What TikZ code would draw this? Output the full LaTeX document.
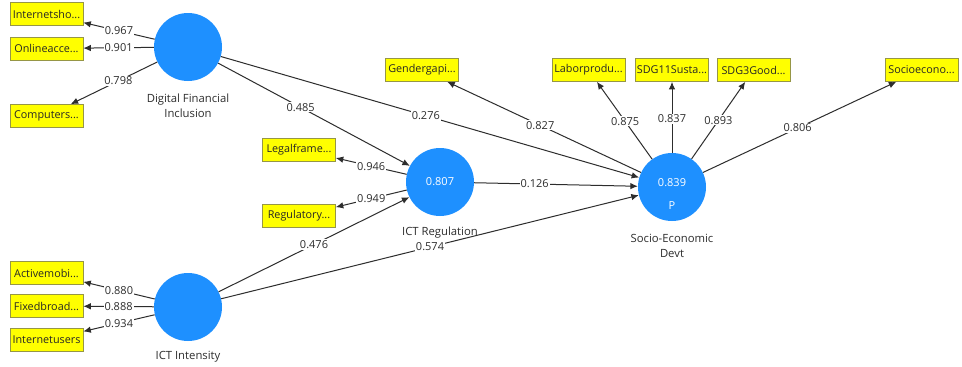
\documentclass[tikz,border=0pt]{standalone}
\usepackage{fontspec}
\setmainfont{Open Sans}
\usetikzlibrary{arrows.meta}
\definecolor{lvblue}{RGB}{30,144,255}
\definecolor{boxyellow}{RGB}{255,255,0}
\definecolor{boxedge}{RGB}{150,150,70}
\definecolor{linegray}{RGB}{45,45,45}
\definecolor{labgray}{RGB}{45,45,45}
\begin{document}
\begin{tikzpicture}[x=1pt,y=-1pt,
 lv/.style={circle,fill=lvblue,minimum size=68pt,inner sep=0pt,text=white,font=\fontsize{11}{12}\selectfont},
 ind/.style={draw=boxedge,fill=boxyellow,line width=0.6pt,minimum width=73pt,minimum height=23pt,inner sep=0pt,font=\fontsize{10.8}{12}\selectfont,text=black!85},
 lvname/.style={align=center,font=\fontsize{11.3}{14.5}\selectfont,text=labgray},
 lvtext/.style={text=white,font=\fontsize{11}{12}\selectfont},
 pathline/.style={draw=linegray,line width=1pt,-{Latex[length=7.5pt,width=6.5pt]}},
 wt/.style={fill=white,inner sep=1pt,font=\fontsize{11}{12}\selectfont,text=labgray},
]
\useasboundingbox[fill=white] (0,0) rectangle (962,367);

% latent variables
\node[lv] (dfi) at (188,47) {};
\node[lvname] (dfilab) at (188,106) {Digital Financial\\Inclusion};
\node[lv] (ict) at (188,307) {};
\node[lvname] (ictlab) at (188,357) {ICT Intensity};
\node[lv] (reg) at (440,182) {0.807};
\node[lvname] (reglab) at (440,233) {ICT Regulation};
\node[lv] (sed) at (672,187) {};
\node[lvtext] (sedval) at (672,183) {0.839};
\node[lvtext] (sedp) at (672,206) {P};
\node[lvname] (sedlab) at (672,246) {Socio-Economic\\Devt};

% indicators
\node[ind] (i1) at (46.5,14) {Internetsho...};
\node[ind] (i2) at (46.5,48.5) {Onlineacce...};
\node[ind] (i3) at (46.5,116) {Computers...};
\node[ind] (i4) at (46.5,273) {Activemobi...};
\node[ind] (i5) at (46.5,306) {Fixedbroad...};
\node[ind] (i6) at (46.5,340) {Internetusers};
\node[ind] (i7) at (299,149.5) {Legalframe...};
\node[ind] (i8) at (299,216) {Regulatory...};
\node[ind] (i9) at (422,70) {Gendergapi...};
\node[ind] (i10) at (588.5,70) {Laborprodu...};
\node[ind] (i11) at (672,70) {SDG11Susta...};
\node[ind] (i12) at (753.5,70) {SDG3Good...};
\node[ind] (i13) at (921.5,70) {Socioecono...};

% outer loadings
\draw[pathline] (dfi) -- node[wt]{0.967} (i1);
\draw[pathline] (dfi) -- node[wt]{0.901} (i2);
\draw[pathline] (dfi) -- node[wt,pos=0.45]{0.798} (i3);
\draw[pathline] (ict) -- node[wt]{0.880} (i4);
\draw[pathline] (ict) -- node[wt]{0.888} (i5);
\draw[pathline] (ict) -- node[wt]{0.934} (i6);
\draw[pathline] (reg) -- node[wt]{0.946} (i7);
\draw[pathline] (reg) -- node[wt]{0.949} (i8);
\draw[pathline] (sed) -- node[wt,pos=0.52]{0.827} (i9);
\draw[pathline] (sed) -- node[wt,pos=0.49]{0.875} (i10);
\draw[pathline] (sed) -- node[wt,pos=0.48]{0.837} (i11);
\draw[pathline] (sed) -- node[wt,pos=0.5]{0.893} (i12);
\draw[pathline] (sed) -- node[wt,pos=0.49]{0.806} (i13);

% structural paths
\draw[pathline] (dfi) -- node[wt,pos=0.43]{0.485} (reg);
\draw[pathline] (dfi) -- node[wt,pos=0.49]{0.276} (sed);
\draw[pathline] (ict) -- node[wt,pos=0.5]{0.476} (reg);
\draw[pathline] (ict) -- node[wt,pos=0.5]{0.574} (sed);
\draw[pathline] (reg) -- node[wt,pos=0.37]{0.126} (sed);
\end{tikzpicture}
\end{document}
